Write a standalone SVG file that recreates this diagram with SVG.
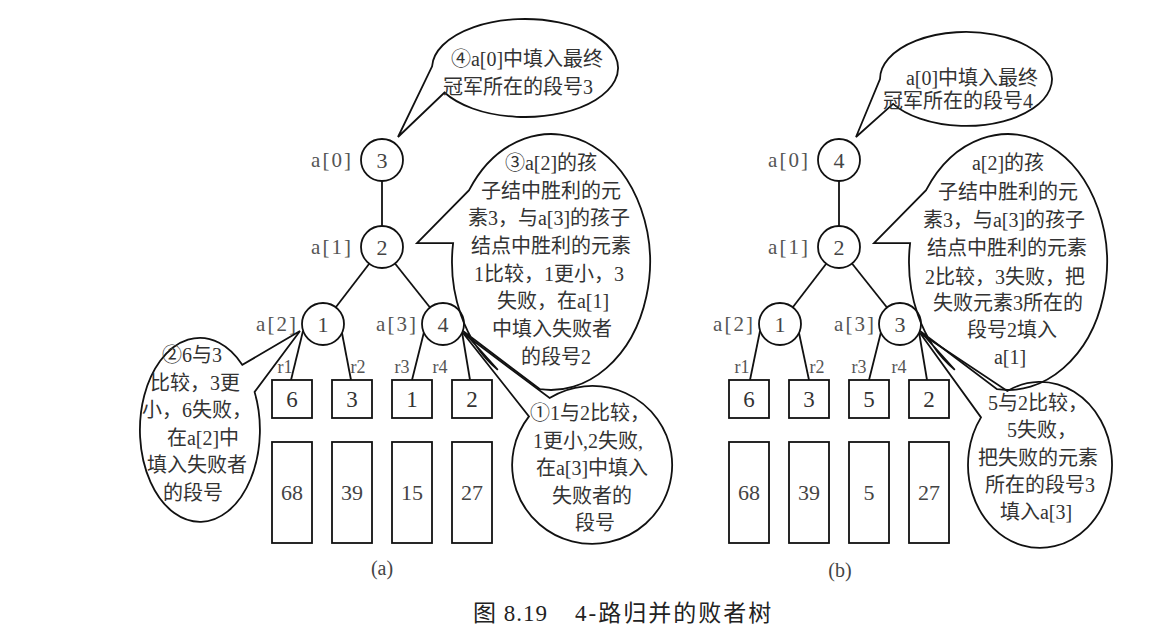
<svg xmlns="http://www.w3.org/2000/svg" width="1176" height="639" viewBox="0 0 1176 639">
<style>
.ln{stroke:#111;stroke-width:1.8;fill:none}
.nd{fill:#fff;stroke:#111;stroke-width:1.8}
.bx{fill:#fff;stroke:#111;stroke-width:1.8}
.bub{fill:none;stroke:#111;stroke-width:1.8;stroke-linejoin:miter}
.t{font-family:"Liberation Serif","Noto Sans CJK SC",serif;fill:#333;text-anchor:middle}
.num{font-size:22px;fill:#444}
.bn{font-size:23px}
.lbl{font-size:21px;fill:#555;letter-spacing:2px}
.r{font-size:18px;fill:#555}
.ct{font-size:20px}
.cap{font-size:23px;fill:#222;text-anchor:start}
</style>
<rect width="1176" height="639" fill="#fff"/>

<g id="connectors" class="ln">
  <line x1="382" y1="181" x2="382" y2="226"/>
  <line x1="369.2" y1="263.7" x2="335.8" y2="307.3"/>
  <line x1="395" y1="263.5" x2="430" y2="307.5"/>
  <line x1="303" y1="331" x2="291" y2="380"/>
  <line x1="342" y1="333" x2="351" y2="380"/>
  <line x1="424" y1="332" x2="412" y2="380"/>
  <line x1="462" y1="332" x2="470" y2="380"/>
  <line x1="839" y1="181" x2="839" y2="226"/>
  <line x1="826.2" y1="263.7" x2="792.8" y2="307.3"/>
  <line x1="852" y1="263.5" x2="887" y2="307.5"/>
  <line x1="760" y1="331" x2="750" y2="380"/>
  <line x1="799" y1="333" x2="809" y2="380"/>
  <line x1="881" y1="332" x2="869" y2="380"/>
  <line x1="919" y1="332" x2="927" y2="380"/>
</g>

<!-- tree (a) -->
<g id="a-a0"><circle class="nd" cx="382" cy="160" r="21"/><text class="t num" x="382" y="168">3</text><text class="t lbl" x="332" y="167">a[0]</text></g>
<g id="a-a1"><circle class="nd" cx="382" cy="247" r="21"/><text class="t num" x="382" y="255">2</text><text class="t lbl" x="332" y="254">a[1]</text></g>
<g id="a-a2"><circle class="nd" cx="323" cy="324" r="21"/><text class="t num" x="323" y="332">1</text><text class="t lbl" x="277" y="331">a[2]</text></g>
<g id="a-a3"><circle class="nd" cx="443" cy="324" r="21"/><text class="t num" x="443" y="332">4</text><text class="t lbl" x="397" y="331">a[3]</text></g>

<g id="a-r1"><rect class="bx" x="272" y="380" width="40" height="38"/><text class="t bn" x="292" y="407">6</text><text class="t r" x="285" y="373">r1</text></g>
<g id="a-r2"><rect class="bx" x="332" y="380" width="40" height="38"/><text class="t bn" x="352" y="407">3</text><text class="t r" x="358" y="373">r2</text></g>
<g id="a-r3"><rect class="bx" x="392" y="380" width="40" height="38"/><text class="t bn" x="412" y="407">1</text><text class="t r" x="402" y="373">r3</text></g>
<g id="a-r4"><rect class="bx" x="452" y="380" width="40" height="38"/><text class="t bn" x="472" y="407">2</text><text class="t r" x="440" y="373">r4</text></g>

<g id="a-s1"><rect class="bx" x="272" y="442" width="40" height="101"/><text class="t num" x="292" y="500">68</text></g>
<g id="a-s2"><rect class="bx" x="332" y="442" width="40" height="101"/><text class="t num" x="352" y="500">39</text></g>
<g id="a-s3"><rect class="bx" x="392" y="442" width="40" height="101"/><text class="t num" x="412" y="500">15</text></g>
<g id="a-s4"><rect class="bx" x="452" y="442" width="40" height="101"/><text class="t num" x="472" y="500">27</text></g>

<g id="a-note4">
  <path class="bub" d="M444.5,92.5 A93,49 0 1 0 432.1,66.3 L398,137 Z"/>
  <text class="t ct" x="527" y="66">④a[0]中填入最终</text>
  <text class="t ct" x="518" y="94">冠军所在的段号3</text>
</g>
<g id="a-note3">
  <path class="bub" d="M469.1,190.1 A99,128 0 1 1 540,389.2 L463,331 L497.8,369.9 A99,128 0 0 1 453.1,243.1 L417,243 Z"/>
  <text class="t ct" x="551" y="170">③a[2]的孩</text>
  <text class="t ct" x="551" y="198">子结中胜利的元</text>
  <text class="t ct" x="549" y="225">素3，与a[3]的孩子</text>
  <text class="t ct" x="551" y="253">结点中胜利的元素</text>
  <text class="t ct" x="549" y="281">1比较，1更小，3</text>
  <text class="t ct" x="553" y="308">失败，在a[1]</text>
  <text class="t ct" x="552" y="336">中填入失败者</text>
  <text class="t ct" x="556" y="364">的段号2</text>
</g>
<g id="a-note2">
  <path class="bub" d="M254.6,392 A60,92 0 1 1 242.4,364.9 L300,331 Z"/>
  <text class="t ct" x="192" y="362">②6与3</text>
  <text class="t ct" x="195" y="390">比较，3更</text>
  <text class="t ct" x="197" y="417">小，6失败，</text>
  <text class="t ct" x="203" y="445">在a[2]中</text>
  <text class="t ct" x="197" y="472">填入失败者</text>
  <text class="t ct" x="193" y="500">的段号</text>
</g>
<g id="a-note1">
  <path class="bub" d="M549.6,398 A80,79 0 1 1 529,416.4 L463,333 Z"/>
  <text class="t ct" x="590" y="420">①1与2比较，</text>
  <text class="t ct" x="588" y="448">1更小,2失败,</text>
  <text class="t ct" x="592" y="475">在a[3]中填入</text>
  <text class="t ct" x="592" y="503">失败者的</text>
  <text class="t ct" x="595" y="530">段号</text>
</g>
<text class="t ct" x="382" y="575" style="fill:#444">(a)</text>

<!-- tree (b) -->
<g id="b-a0"><circle class="nd" cx="839" cy="160" r="21"/><text class="t num" x="839" y="168">4</text><text class="t lbl" x="789" y="167">a[0]</text></g>
<g id="b-a1"><circle class="nd" cx="839" cy="247" r="21"/><text class="t num" x="839" y="255">2</text><text class="t lbl" x="789" y="254">a[1]</text></g>
<g id="b-a2"><circle class="nd" cx="780" cy="324" r="21"/><text class="t num" x="780" y="332">1</text><text class="t lbl" x="734" y="331">a[2]</text></g>
<g id="b-a3"><circle class="nd" cx="900" cy="324" r="21"/><text class="t num" x="900" y="332">3</text><text class="t lbl" x="855" y="331">a[3]</text></g>

<g id="b-r1"><rect class="bx" x="729" y="380" width="40" height="38"/><text class="t bn" x="749" y="407">6</text><text class="t r" x="742" y="373">r1</text></g>
<g id="b-r2"><rect class="bx" x="789" y="380" width="40" height="38"/><text class="t bn" x="809" y="407">3</text><text class="t r" x="817" y="373">r2</text></g>
<g id="b-r3"><rect class="bx" x="849" y="380" width="40" height="38"/><text class="t bn" x="869" y="407">5</text><text class="t r" x="859" y="373">r3</text></g>
<g id="b-r4"><rect class="bx" x="909" y="380" width="40" height="38"/><text class="t bn" x="929" y="407">2</text><text class="t r" x="899" y="373">r4</text></g>

<g id="b-s1"><rect class="bx" x="729" y="442" width="40" height="101"/><text class="t num" x="749" y="500">68</text></g>
<g id="b-s2"><rect class="bx" x="789" y="442" width="40" height="101"/><text class="t num" x="809" y="500">39</text></g>
<g id="b-s3"><rect class="bx" x="849" y="442" width="40" height="101"/><text class="t num" x="869" y="500">5</text></g>
<g id="b-s4"><rect class="bx" x="909" y="442" width="40" height="101"/><text class="t num" x="929" y="500">27</text></g>

<g id="b-note0">
  <path class="bub" d="M893.1,103.9 A86,47 0 1 0 880,79 L856,137 Z"/>
  <text class="t ct" x="972" y="85">a[0]中填入最终</text>
  <text class="t ct" x="958" y="108">冠军所在的段号4</text>
</g>
<g id="b-note3">
  <path class="bub" d="M926.1,190.1 A99,128 0 1 1 997,389.2 L920,331 L954.8,369.9 A99,128 0 0 1 910.1,243.1 L874,243 Z"/>
  <text class="t ct" x="1008" y="170">a[2]的孩</text>
  <text class="t ct" x="1008" y="199">子结中胜利的元</text>
  <text class="t ct" x="1004" y="227">素3，与a[3]的孩子</text>
  <text class="t ct" x="1007" y="255">结点中胜利的元素</text>
  <text class="t ct" x="1005" y="284">2比较，3失败，把</text>
  <text class="t ct" x="1008" y="310">失败元素3所在的</text>
  <text class="t ct" x="1012" y="337">段号2填入</text>
  <text class="t ct" x="1010" y="364">a[1]</text>
</g>
<g id="b-note2">
  <path class="bub" d="M1007.3,391 A72,83 0 1 1 981,417.4 L920,333 Z"/>
  <text class="t ct" x="1038" y="410">5与2比较，</text>
  <text class="t ct" x="1042" y="437">5失败，</text>
  <text class="t ct" x="1038" y="465">把失败的元素</text>
  <text class="t ct" x="1040" y="492">所在的段号3</text>
  <text class="t ct" x="1036" y="519">填入a[3]</text>
</g>
<text class="t ct" x="840" y="577" style="fill:#444">(b)</text>

<g id="caption">
  <text class="t cap" x="473" y="621" style="letter-spacing:1px">图 8.19</text>
  <text class="t cap" x="575" y="621" style="letter-spacing:2px">4-路归并的败者树</text>
</g>
</svg>
